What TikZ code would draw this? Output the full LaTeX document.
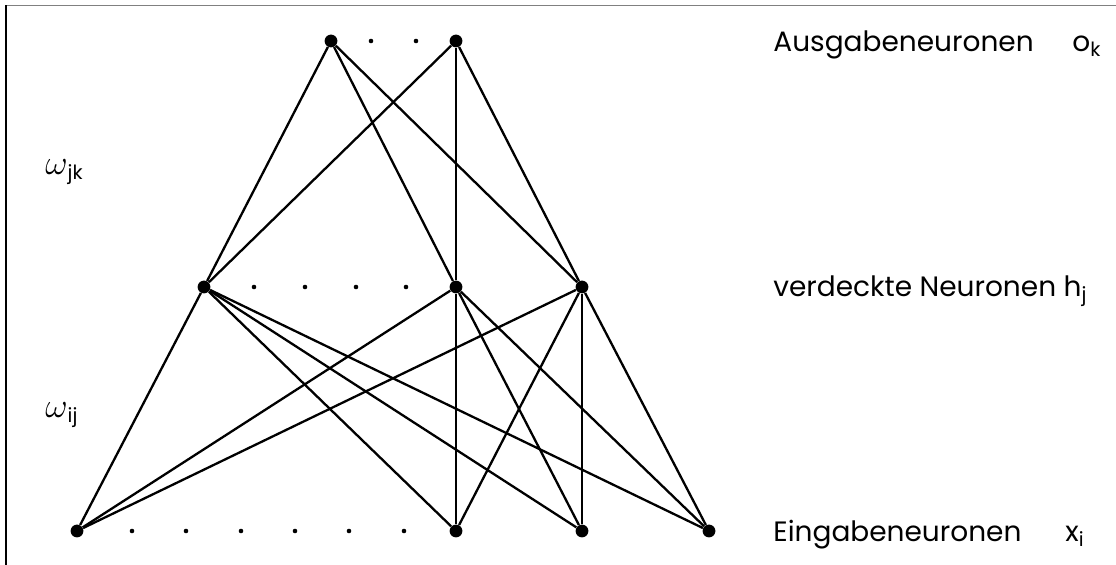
\documentclass[tikz,border=0pt]{standalone}
\usepackage{fontspec}
\setmainfont{Poppins}
\usetikzlibrary{positioning}
\tikzset{
  neuron/.style={circle, fill=black, inner sep=0pt, minimum size=6.4pt},
  gapdot/.style={circle, fill=black, inner sep=0pt, minimum size=2.3pt},
  link/.style={line width=1.15pt, draw=black},
  layer/.style={anchor=base west, inner sep=0pt, font=\fontsize{14}{17}\selectfont},
  weight/.style={anchor=base west, inner sep=0pt, font=\fontsize{14}{17}\selectfont},
}
\newcommand{\wsym}{{\fontsize{18}{20}\selectfont$\omega$}}

\begin{document}
\begin{tikzpicture}[x=0.5pt, y=-0.5pt]
  \useasboundingbox (0,0) rectangle (1116,565);
  % frame
  \draw[black!50, line width=0.75pt] (6,5.5) -- (1116,5.5);
  \draw[black, line width=0.75pt] (6,5.5) -- (6,565);
  % neurons
  \node[neuron] (o1) at (331,41) {};
  \node[neuron] (o2) at (456,41) {};
  \node[neuron] (h1) at (204,287) {};
  \node[neuron] (h2) at (456,287) {};
  \node[neuron] (h3) at (582,287) {};
  \node[neuron] (x1) at (77,531) {};
  \node[neuron] (x2) at (456,531) {};
  \node[neuron] (x3) at (582,531) {};
  \node[neuron] (x4) at (709,531) {};
  % dots between neurons
  \foreach \px [count=\n] in {371,416}
    \node[gapdot] (od\n) at (\px,41) {};
  \foreach \px [count=\n] in {254,305,356,406}
    \node[gapdot] (hd\n) at (\px,287) {};
  \foreach \px [count=\n] in {132,186,241,295,349,404}
    \node[gapdot] (xd\n) at (\px,531) {};
  % weights
  \foreach \o in {o1,o2}
    \foreach \h in {h1,h2,h3}
      \draw[link] (\o) -- (\h);
  \foreach \h in {h1,h2,h3}
    \foreach \x in {x1,x2,x3,x4}
      \draw[link] (\h) -- (\x);
  % labels
  \node[layer] (lout) at (773,52) {Ausgabeneuronen};
  \node[layer] (lok) at (1072,52) {o\textsubscript{k}};
  \node[layer] (lhid) at (773,297) {verdeckte Neuronen h\textsubscript{j}};
  \node[layer] (lin) at (773,542) {Eingabeneuronen};
  \node[layer] (lxi) at (1065,542) {x\textsubscript{i}};
  \node[weight] (wjk) at (45,175) {\wsym\textsubscript{jk}};
  \node[weight] (wij) at (45,418) {\wsym\textsubscript{ij}};
\end{tikzpicture}
\end{document}
